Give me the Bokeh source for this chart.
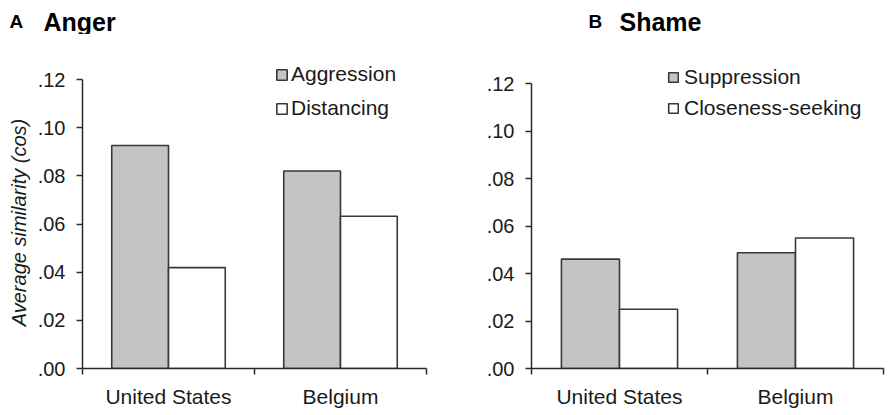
import math
from bokeh.plotting import figure
from bokeh.models import (ColumnDataSource, FactorRange, Range1d, LinearAxis,
                          FixedTicker, Label, Legend, LegendItem, CustomJSTickFormatter)
from bokeh.transform import dodge
from bokeh.layouts import row, column
from bokeh.embed import file_html
from bokeh.resources import INLINE

# ---- data ----
categories = ["United States", "Belgium"]
anger_aggression = [0.0926, 0.0820]
anger_distancing = [0.0419, 0.0632]
shame_suppression = [0.0461, 0.0488]
shame_closeness = [0.0250, 0.0550]
y_ticks = [0.0, 0.02, 0.04, 0.06, 0.08, 0.10, 0.12]
y_tick_labels = [".00", ".02", ".04", ".06", ".08", ".10", ".12"]
y_label = "Average similarity (cos)"

FONT = "Liberation Sans"
GRAY = "#c4c4c4"
EDGE = "#383838"
AX = "#2a2a2a"
TXT = "#1a1a1a"


def blank(width, height):
    f = figure(width=width, height=height, x_range=Range1d(0, 1), y_range=Range1d(0, 1),
               output_backend="svg", toolbar_location=None, x_axis_type=None, y_axis_type=None,
               min_border=0)
    f.outline_line_color = None
    f.grid.visible = False
    return f


def title_fig(width, letter, title, letter_x, title_x):
    f = blank(width, 34)
    f.add_layout(Label(x=letter_x, y=13, x_units="screen", y_units="screen", text=letter,
                       text_font=FONT, text_font_style="bold", text_font_size="19px",
                       text_color="black", text_baseline="alphabetic"))
    f.add_layout(Label(x=title_x, y=13, x_units="screen", y_units="screen", text=title,
                       text_font=FONT, text_font_style="bold", text_font_size="25px",
                       text_color="black", text_baseline="alphabetic"))
    return f


def panel(s1, s2, names, width, border_left, border_right, y_end,
          legend_xy, legend_spacing, glyph, standoff):
    src = ColumnDataSource(dict(cat=categories, a=s1, b=s2))
    p = figure(width=width, height=381, x_range=FactorRange(*categories),
               y_range=Range1d(0, y_end), output_backend="svg", toolbar_location=None,
               x_axis_type=None, y_axis_type=None,
               min_border_left=border_left, min_border_top=0,
               min_border_right=border_right, min_border_bottom=47)
    p.outline_line_color = None
    p.grid.visible = False

    r1 = p.vbar(x=dodge("cat", -0.165, range=p.x_range), top="a", width=0.33, source=src,
                fill_color=GRAY, line_color=EDGE, line_width=1.6)
    r2 = p.vbar(x=dodge("cat", 0.165, range=p.x_range), top="b", width=0.33, source=src,
                fill_color="white", line_color=EDGE, line_width=1.6)

    yax = LinearAxis(ticker=FixedTicker(ticks=y_ticks), bounds=(0, max(y_ticks)),
                     formatter=CustomJSTickFormatter(
                         args=dict(yt=y_ticks, labs=y_tick_labels),
                         code="const i = yt.findIndex(t => Math.abs(t - tick) < 1e-9);"
                              "return i >= 0 ? labs[i] : '';"))
    yax.axis_line_color = AX
    yax.axis_line_width = 1.5
    yax.major_tick_line_color = AX
    yax.major_tick_line_width = 1.5
    yax.major_tick_in = 0
    yax.major_tick_out = 6
    yax.minor_tick_line_color = None
    yax.major_label_standoff = 11
    yax.major_label_text_font = FONT
    yax.major_label_text_font_size = "20px"
    yax.major_label_text_color = TXT
    p.add_layout(yax, "left")

    n = len(categories)
    xax = LinearAxis(ticker=FixedTicker(ticks=[i + 0.5 for i in range(n)],
                                        minor_ticks=list(range(n + 1))),
                     formatter=CustomJSTickFormatter(args=dict(cats=categories),
                                                     code="return cats[Math.floor(tick)];"))
    xax.axis_line_color = AX
    xax.axis_line_width = 1.5
    xax.major_tick_line_color = None
    xax.major_tick_in = 0
    xax.major_tick_out = 0
    xax.minor_tick_line_color = AX
    xax.minor_tick_line_width = 1.5
    xax.minor_tick_in = 0
    xax.minor_tick_out = 6
    xax.major_label_standoff = 10
    xax.major_label_text_font = FONT
    xax.major_label_text_font_size = "21px"
    xax.major_label_text_color = TXT
    p.add_layout(xax, "below")

    legend = Legend(items=[LegendItem(label=names[0], renderers=[r1]),
                           LegendItem(label=names[1], renderers=[r2])],
                    location=legend_xy, orientation="vertical")
    legend.glyph_width = glyph
    legend.glyph_height = glyph
    legend.label_standoff = standoff
    legend.label_text_font = FONT
    legend.label_text_font_size = "21px"
    legend.label_text_color = TXT
    legend.label_height = 20
    legend.spacing = legend_spacing
    legend.padding = 0
    legend.margin = 0
    legend.border_line_color = None
    legend.background_fill_alpha = 0
    p.add_layout(legend, "center")
    return p


# y-axis title of panel A
ylab = blank(34, 381)
ylab.add_layout(Label(x=18, y=146, x_units="screen", y_units="screen", text=y_label,
                      angle=math.pi / 2, text_align="center", text_baseline="middle",
                      text_font=FONT, text_font_style="italic", text_font_size="20px",
                      text_color=TXT))

pA = panel(anger_aggression, anger_distancing, ["Aggression", "Distancing"],
           width=414, border_left=46, border_right=22, y_end=0.12 * 334 / 289,
           legend_xy=(193, 248), legend_spacing=10, glyph=13, standoff=3)
pB = panel(shame_suppression, shame_closeness, ["Suppression", "Closeness-seeking"],
           width=444, border_left=83, border_right=9, y_end=0.12 * 334 / 284.7,
           legend_xy=(136, 248), legend_spacing=7, glyph=12, standoff=5)

tA = title_fig(448, "A", "Anger", 9, 43)
tB = title_fig(444, "B", "Shame", 57, 88)

layout = row(column(tA, row(ylab, pA)), column(tB, pB))
open("out.html", "w").write(file_html(layout, INLINE))
